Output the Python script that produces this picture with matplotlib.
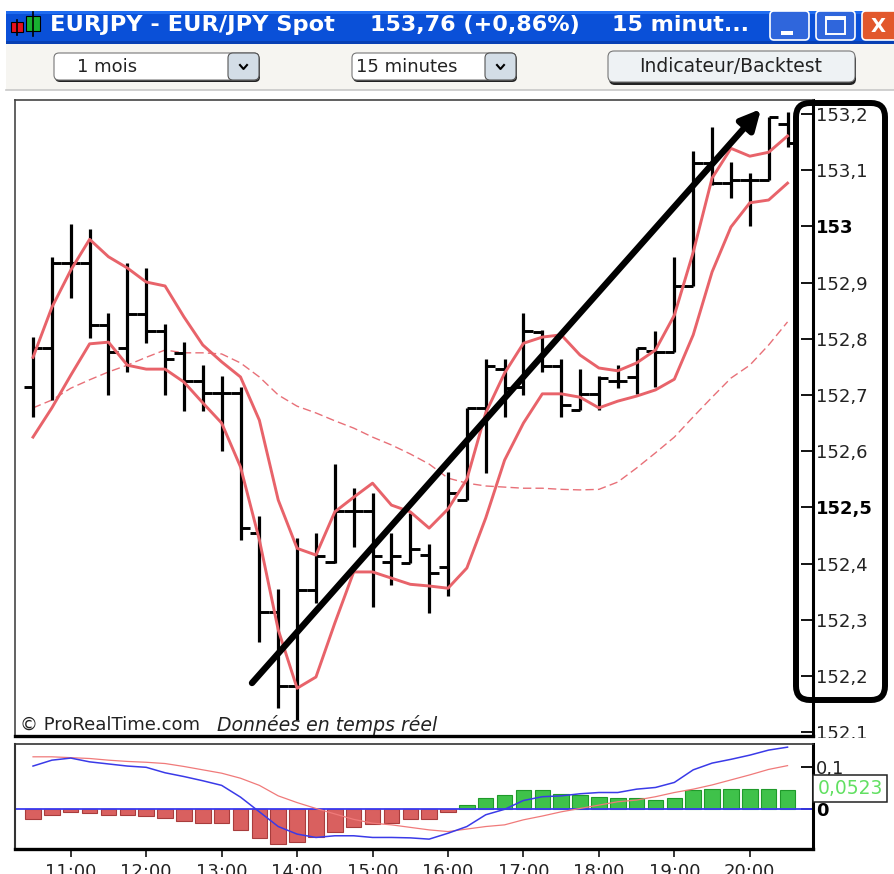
import matplotlib
matplotlib.use('Agg')
import matplotlib.pyplot as plt
import matplotlib.patches as patches
import numpy as np

# EUR/JPY 15 minute bars
opens = [152.714, 152.783, 152.935, 152.935, 152.824, 152.783, 152.844, 152.814, 152.775, 152.725, 152.703,
         152.703, 152.454, 152.314, 152.182, 152.353, 152.403, 152.493, 152.493, 152.403, 152.401, 152.415,
         152.394, 152.513, 152.677, 152.746, 152.714, 152.812, 152.751, 152.673, 152.702, 152.725, 152.732,
         152.778, 152.776, 152.894, 153.113, 153.077, 153.083, 153.083, 153.182]
highs = [152.803, 152.946, 153.004, 152.995, 152.846, 152.935, 152.926, 152.826, 152.794, 152.753, 152.734,
         152.714, 152.485, 152.355, 152.445, 152.454, 152.577, 152.534, 152.525, 152.454, 152.490, 152.435,
         152.563, 152.677, 152.764, 152.764, 152.846, 152.816, 152.764, 152.746, 152.734, 152.753, 152.783,
         152.814, 152.946, 153.134, 153.177, 153.115, 153.095, 153.195, 153.204]
lows = [152.661, 152.691, 152.872, 152.801, 152.700, 152.741, 152.792, 152.700, 152.671, 152.671, 152.600,
        152.442, 152.260, 152.143, 152.121, 152.330, 152.401, 152.429, 152.322, 152.362, 152.401, 152.312,
        152.342, 152.513, 152.561, 152.661, 152.700, 152.741, 152.661, 152.673, 152.673, 152.712, 152.702,
        152.714, 152.776, 152.894, 153.074, 153.050, 153.001, 153.083, 153.141]
closes = [152.783, 152.935, 152.935, 152.824, 152.776, 152.844, 152.814, 152.764, 152.725, 152.703, 152.703,
          152.463, 152.314, 152.182, 152.353, 152.413, 152.493, 152.493, 152.413, 152.413, 152.426, 152.383,
          152.525, 152.677, 152.751, 152.712, 152.814, 152.751, 152.682, 152.702, 152.730, 152.725, 152.783,
          152.776, 152.894, 153.113, 153.077, 153.083, 153.083, 153.195, 153.148]

# Moving averages
ma_upper = [152.767, 152.856, 152.922, 152.977, 152.946, 152.926, 152.901, 152.894, 152.839, 152.789, 152.759,
            152.732, 152.655, 152.513, 152.427, 152.415, 152.492, 152.518, 152.543, 152.504, 152.492, 152.463,
            152.497, 152.550, 152.668, 152.739, 152.792, 152.803, 152.807, 152.771, 152.748, 152.743, 152.757,
            152.780, 152.842, 152.954, 153.086, 153.139, 153.125, 153.132, 153.161]
ma_lower = [152.625, 152.677, 152.735, 152.791, 152.794, 152.753, 152.746, 152.746, 152.723, 152.686, 152.650,
            152.572, 152.442, 152.282, 152.178, 152.198, 152.294, 152.385, 152.385, 152.374, 152.363, 152.360,
            152.356, 152.392, 152.481, 152.584, 152.650, 152.702, 152.702, 152.696, 152.677, 152.689, 152.698,
            152.709, 152.728, 152.807, 152.919, 152.999, 153.042, 153.047, 153.077]
ma_slow = [152.677, 152.691, 152.712, 152.727, 152.741, 152.753, 152.767, 152.780, 152.775, 152.775, 152.773,
           152.757, 152.732, 152.700, 152.680, 152.668, 152.654, 152.641, 152.625, 152.611, 152.595, 152.577,
           152.552, 152.543, 152.538, 152.536, 152.534, 152.534, 152.532, 152.531, 152.532, 152.545, 152.570,
           152.597, 152.625, 152.661, 152.696, 152.730, 152.753, 152.789, 152.830]

# MACD panel
macd_hist = [-0.0240, -0.0136, -0.0055, -0.0095, -0.0136, -0.0136, -0.0160, -0.0198, -0.0270, -0.0317, -0.0317,
             -0.0493, -0.0683, -0.0833, -0.0786, -0.0667, -0.0531, -0.0421, -0.0350, -0.0333, -0.0238, -0.0238,
             -0.0071, 0.0102, 0.0262, 0.0333, 0.0452, 0.0452, 0.0374, 0.0350, 0.0293, 0.0262, 0.0262,
             0.0221, 0.0262, 0.0452, 0.0483, 0.0483, 0.0483, 0.0483, 0.0452]
macd_line = [0.103, 0.117, 0.122, 0.113, 0.108, 0.103, 0.100, 0.087, 0.078, 0.068, 0.057,
             0.029, -0.006, -0.041, -0.059, -0.067, -0.063, -0.063, -0.067, -0.067, -0.068, -0.071,
             -0.057, -0.041, -0.013, 0.000, 0.021, 0.030, 0.032, 0.037, 0.040, 0.040, 0.048,
             0.052, 0.064, 0.094, 0.110, 0.119, 0.129, 0.141, 0.148]
macd_signal = [0.125, 0.125, 0.123, 0.121, 0.117, 0.114, 0.112, 0.109, 0.102, 0.094, 0.086,
               0.074, 0.057, 0.032, 0.016, 0.002, -0.011, -0.024, -0.033, -0.037, -0.043, -0.049,
               -0.053, -0.047, -0.041, -0.037, -0.025, -0.016, -0.006, 0.002, 0.010, 0.018, 0.022,
               0.030, 0.040, 0.048, 0.058, 0.070, 0.082, 0.095, 0.104]

price_ticks = [152.1, 152.2, 152.3, 152.4, 152.5, 152.6, 152.7, 152.8, 152.9, 153.0, 153.1, 153.2]
price_labels = ['152,1', '152,2', '152,3', '152,4', '152,5', '152,6', '152,7', '152,8', '152,9', '153', '153,1', '153,2']
hour_ticks = [2, 6, 10, 14, 18, 22, 26, 30, 34, 38]
hour_labels = ['11:00', '12:00', '13:00', '14:00', '15:00', '16:00', '17:00', '18:00', '19:00', '20:00']

W, H = 894, 874


def px_axes(fig, x0, y0, x1, y1, **kw):
    # axes from screenshot pixel box (y counted from the top)
    return fig.add_axes([x0 / W, 1 - y1 / H, (x1 - x0) / W, (y1 - y0) / H], **kw)


def draw_chart():
    fig = plt.figure(figsize=(W / 100, H / 100), dpi=100, facecolor='white')
    idx = np.arange(len(opens))
    xlim = (-0.955, 41.35)

    # 1. PRICE PANEL
    ax = px_axes(fig, 15, 100, 813, 736)
    ax.set_xlim(xlim)
    ax.set_ylim(152.093, 153.225)
    red = '#e8636a'
    ax.plot(idx, ma_slow, color='#e87078', lw=1.0, ls=(0, (6, 3)), zorder=1)
    ax.vlines(idx, lows, highs, color='black', lw=2.3, zorder=2)
    ax.hlines(opens, idx - 0.5, idx, color='black', lw=2.1, zorder=2)
    ax.hlines(closes, idx, idx + 0.5, color='black', lw=2.1, zorder=2)
    ax.plot(idx, ma_upper, color=red, lw=2.1, zorder=3, solid_joinstyle='round')
    ax.plot(idx, ma_lower, color=red, lw=2.1, zorder=3, solid_joinstyle='round')

    ax.set_xticks([])
    ax.yaxis.tick_right()
    ax.set_yticks(price_ticks)
    ax.set_yticklabels(price_labels)
    ax.tick_params(axis='y', direction='in', length=9, width=1.3, pad=2, labelsize=13, labelcolor='#222222')
    for lab in ax.get_yticklabels():
        if lab.get_text() in ('153', '152,5'):
            lab.set_fontweight('bold')
            lab.set_color('black')
    ax.spines['left'].set(color='#555555', lw=1.3)
    ax.spines['top'].set(color='#444444', lw=1.2)
    ax.spines['right'].set(color='black', lw=2.2)
    ax.spines['bottom'].set(color='black', lw=2.4)

    ax.text(0.006, 0.017, '© ProRealTime.com', transform=ax.transAxes, ha='left', va='center', fontsize=13, color='#222222')
    ax.text(0.253, 0.017, 'Données en temps réel', transform=ax.transAxes, ha='left', va='center', fontsize=13.6,
            style='italic', color='#222222')

    # 2. MACD PANEL
    ax2 = px_axes(fig, 15, 744, 813, 849)
    ax2.set_xlim(xlim)
    ax2.set_ylim(-0.0945, 0.1555)
    hist = np.array(macd_hist)
    ax2.bar(idx[hist < 0], hist[hist < 0], width=0.82, color='#d9605f', edgecolor='#a83c3c', lw=0.8, zorder=1)
    ax2.bar(idx[hist > 0], hist[hist > 0], width=0.82, color='#3fc24a', edgecolor='#1f9a2a', lw=0.8, zorder=1)
    ax2.axhline(0, color='#3a3af0', lw=1.3, zorder=2)
    ax2.plot(idx, macd_signal, color='#f07a7a', lw=0.9, zorder=3)
    ax2.plot(idx, macd_line, color='#3a3ae8', lw=1.1, zorder=4)

    ax2.yaxis.tick_right()
    ax2.set_yticks([0, 0.1])
    ax2.set_yticklabels(['0', '0,1'])
    ax2.tick_params(axis='y', direction='in', length=9, width=1.3, pad=2, labelsize=13, labelcolor='#222222')
    ax2.get_yticklabels()[0].set_fontweight('bold')
    ax2.get_yticklabels()[0].set_color('black')
    ax2.set_xticks(hour_ticks)
    ax2.set_xticklabels(hour_labels)
    ax2.tick_params(axis='x', direction='out', length=6, width=1.1, pad=4, labelsize=13, labelcolor='#222222')
    ax2.spines['left'].set(color='#333333', lw=1.5)
    ax2.spines['top'].set(color='#333333', lw=1.2)
    ax2.spines['right'].set(color='black', lw=2.2)
    ax2.spines['bottom'].set(color='black', lw=2.4)

    # 3. WINDOW CHROME AND DRAWINGS, in screenshot pixels
    ov = fig.add_axes([0, 0, 1, 1], zorder=10)
    ov.set_xlim(0, W)
    ov.set_ylim(H, 0)
    ov.axis('off')
    ov.patch.set_visible(False)

    # cuts the 152,1 label at the top of the lower panel
    ov.add_patch(patches.Rectangle((815, 738), 70, 7, facecolor='white', edgecolor='none'))

    # title bar
    ov.add_patch(patches.Rectangle((6, 11), 888, 33, facecolor='#0a50d8', edgecolor='none'))
    ov.add_patch(patches.Rectangle((6, 11), 888, 3, facecolor='#1f6cf0', edgecolor='none'))
    ov.add_patch(patches.Rectangle((6, 41), 888, 3, facecolor='#0840b4', edgecolor='none'))
    ov.plot([17, 17], [20, 35], color='black', lw=1.2)
    ov.plot([33, 33], [12, 36], color='black', lw=1.2)
    ov.add_patch(patches.Rectangle((11, 22), 12, 10, facecolor='#e8101c', edgecolor='black', lw=0.8))
    ov.add_patch(patches.Rectangle((26, 16), 14, 15, facecolor='#18b030', edgecolor='black', lw=0.8))
    ov.text(50, 25, 'EURJPY - EUR/JPY Spot', color='white', fontweight='bold', fontsize=16.2, ha='left', va='center')
    ov.text(370, 25, '153,76 (+0,86%)', color='white', fontweight='bold', fontsize=16, ha='left', va='center')
    ov.text(612, 25, '15 minut...', color='white', fontweight='bold', fontsize=16, ha='left', va='center')

    for x0, x1, col in [(770, 809, '#2f66dc'), (816, 855, '#2f66dc'), (862, 900, '#e2582c')]:
        ov.add_patch(patches.FancyBboxPatch((x0, 11), x1 - x0, 29, boxstyle='round,pad=0,rounding_size=4',
                                            facecolor=col, edgecolor='white', lw=1.2))
    ov.add_patch(patches.Rectangle((781, 31), 12, 4, facecolor='white', edgecolor='none'))
    ov.add_patch(patches.Rectangle((826, 17), 19, 17, facecolor='none', edgecolor='white', lw=1.4))
    ov.add_patch(patches.Rectangle((826, 17), 19, 3, facecolor='white', edgecolor='none'))
    ov.text(878, 26, 'X', color='white', fontweight='bold', fontsize=14, ha='center', va='center', clip_on=True)

    # toolbar
    ov.add_patch(patches.Rectangle((6, 44), 888, 46, facecolor='#f6f5f1', edgecolor='none'))
    ov.plot([6, 894], [90, 90], color='#c8c8c8', lw=1.2)
    for x0, x1, label, tx in [(54, 259, '1 mois', 77), (352, 516, '15 minutes', 356)]:
        ov.add_patch(patches.FancyBboxPatch((x0 + 1, 55), x1 - x0, 27, boxstyle='round,pad=0,rounding_size=5',
                                            facecolor='#222222', edgecolor='none'))
        ov.add_patch(patches.FancyBboxPatch((x0, 53), x1 - x0, 27, boxstyle='round,pad=0,rounding_size=5',
                                            facecolor='white', edgecolor='#777777', lw=0.8))
        ov.add_patch(patches.FancyBboxPatch((x1 - 31, 53), 31, 27, boxstyle='round,pad=0,rounding_size=5',
                                            facecolor='#d3dde6', edgecolor='#555555', lw=0.8))
        ov.plot([x1 - 19, x1 - 15.5, x1 - 12], [65, 69, 65], color='black', lw=1.5)
        ov.text(tx, 67, label, fontsize=13, ha='left', va='center', color='#222222')
    ov.add_patch(patches.FancyBboxPatch((609, 54), 247, 31, boxstyle='round,pad=0,rounding_size=6',
                                        facecolor='#222222', edgecolor='none'))
    ov.add_patch(patches.FancyBboxPatch((608, 51), 247, 31, boxstyle='round,pad=0,rounding_size=6',
                                        facecolor='#eef2f4', edgecolor='#777777', lw=0.8))
    ov.text(731, 67, 'Indicateur/Backtest', fontsize=13.5, ha='center', va='center', color='#222222')

    # hand drawn trend arrow and price scale frame
    ov.annotate('', xy=(761, 109), xytext=(252, 683),
                arrowprops=dict(arrowstyle='-|>,head_length=0.6,head_width=0.3', lw=4.6, color='black',
                                shrinkA=0, shrinkB=0, mutation_scale=20))
    ov.add_patch(patches.FancyBboxPatch((796, 103), 89, 597, boxstyle='round,pad=0,rounding_size=14',
                                        facecolor='none', edgecolor='black', lw=4.3))

    # last value box of the MACD
    ov.add_patch(patches.Rectangle((813, 775), 74, 27, facecolor='white', edgecolor='#222222', lw=1.1))
    ov.text(850, 789, '0,0523', fontsize=13.5, color='#62e062', ha='center', va='center')

    fig.savefig('out.png', dpi=100)
    plt.close(fig)


if __name__ == "__main__":
    draw_chart()
